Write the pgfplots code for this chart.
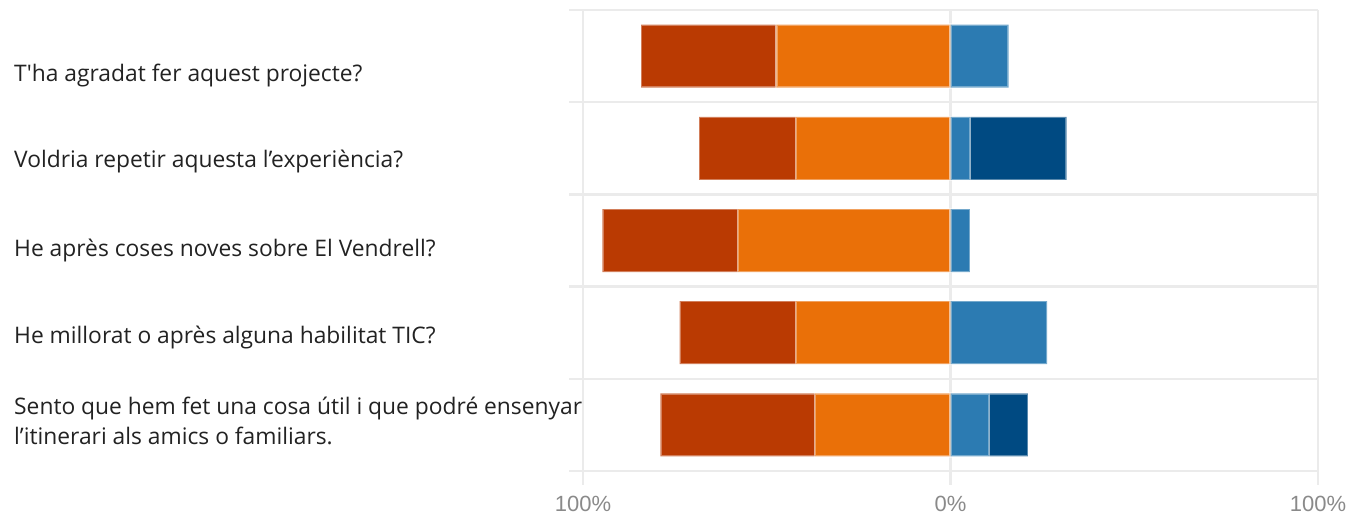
\documentclass[border=0pt]{standalone}
\usepackage{fontspec}
\setmainfont{Open Sans}[Ligatures=TeXOff]
\newfontfamily\tickfont{Liberation Sans}
\usepackage{pgfplots}
\pgfplotsset{compat=1.18}
\usepackage{pgfplotstable}
\definecolor{dred}{HTML}{BA3A02}
\definecolor{orng}{HTML}{EA7008}
\definecolor{lblue}{HTML}{2C7BB2}
\definecolor{dblue}{HTML}{004A82}
\definecolor{gridc}{HTML}{EBEBEB}
\definecolor{txt}{HTML}{222222}
\definecolor{tickc}{HTML}{8A8A8A}

\pgfplotstableread{
row dred orng lblue dblue
1 36.84 47.37 15.79 0
2 26.32 42.11 5.26 26.32
3 36.84 57.89 5.26 0
4 31.58 42.11 26.32 0
5 42.11 36.84 10.53 10.53
}\datatable

\begin{document}
\begin{tikzpicture}
\useasboundingbox (0,0) rectangle (1367bp,517bp);
\pgfplotsset{common/.style={scale only axis, width=735bp, height=461bp,
  at={(583bp,46bp)}, anchor=south west, xmin=-100, xmax=100,
  ymin=0.5, ymax=5.5, y dir=reverse, xbar stacked, bar width=63bp, clip=false},
  segm/.style={fill=#1, draw=white, draw opacity=0.35, line width=2.5bp}}
\begin{axis}[common, axis line style={draw=none},
  xtick={-100,0,100}, xticklabels={100\%,0\%,100\%},
  ytick={0.5,1.5,...,5.5}, yticklabels={},
  xmajorgrids, ymajorgrids, grid style={gridc, line width=2.5bp},
  tick align=outside, major tick length=14bp,
  tick style={gridc, line width=2.5bp}, xtick pos=bottom, ytick pos=left,
  xticklabel style={font=\tickfont\fontsize{22bp}{22bp}\selectfont, text=tickc, anchor=base, yshift=-26bp}]
\addplot[segm=orng] table[x expr=-\thisrow{orng}, y=row]{\datatable};
\addplot[segm=dred] table[x expr=-\thisrow{dred}, y=row]{\datatable};
\end{axis}
\begin{axis}[common, hide axis]
\addplot[segm=lblue] table[x=lblue, y=row]{\datatable};
\addplot[segm=dblue] table[x=dblue, y=row]{\datatable};
\end{axis}
\begin{scope}[every node/.style={anchor=base west, inner sep=0pt, text=txt, font=\fontsize{22.8bp}{30bp}\selectfont}]
\node at (14bp,435bp) {T'ha agradat fer aquest projecte?};
\node at (14bp,349bp) {Voldria repetir aquesta l’experiència?};
\node at (14bp,260bp) {He après coses noves sobre El Vendrell?};
\node at (14bp,173bp) {He millorat o après alguna habilitat TIC?};
\node at (14bp,102bp) {Sento que hem fet una cosa útil i que podré ensenyar};
\node at (14bp,72bp) {l’itinerari als amics o familiars.};
\end{scope}
\end{tikzpicture}
\end{document}
